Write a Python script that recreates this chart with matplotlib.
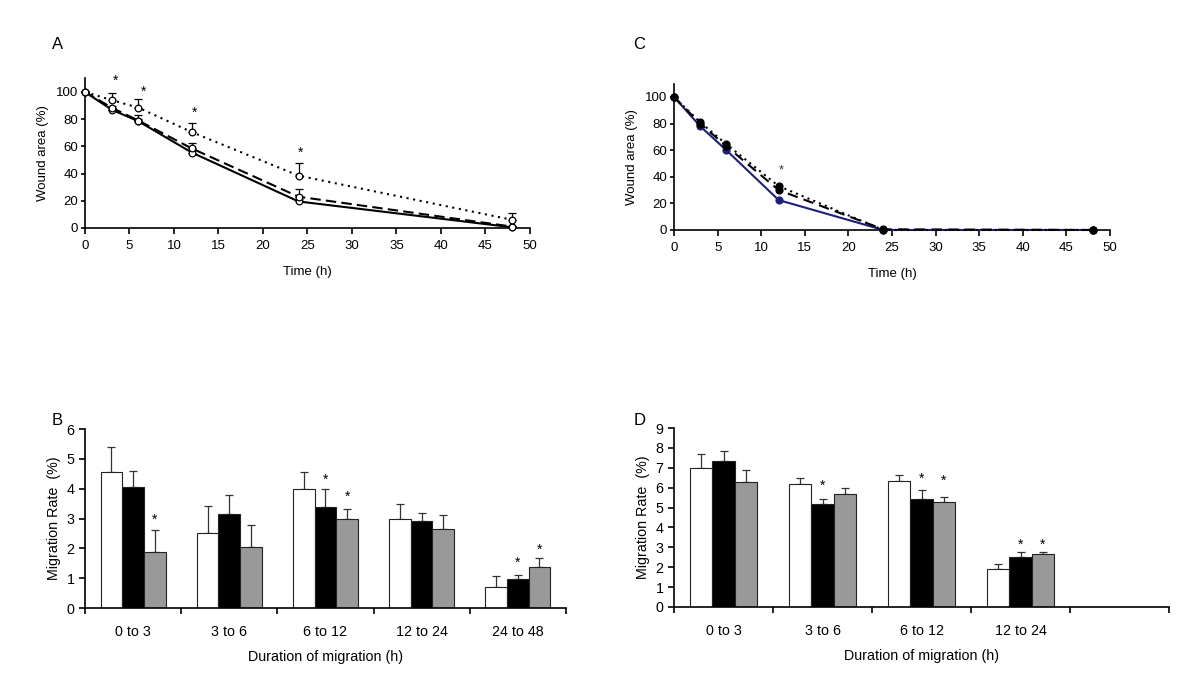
import matplotlib
matplotlib.use('Agg')
import matplotlib.pyplot as plt
import numpy as np

plt.rcParams['font.family'] = ['Liberation Sans', 'DejaVu Sans']

# Panel A: wound area over time (open circles)
time_a = [0, 3, 6, 12, 24, 48]
a_solid = [100, 87, 78.5, 55.5, 19.5, 0.5]
a_solid_err = [0, 1.5, 1.5, 2, 1.5, 0.5]
a_dashed = [100, 88.5, 79, 58.5, 23, 1]
a_dashed_err = [0, 1.5, 4, 4, 6, 0.5]
a_dotted = [100, 94, 88.5, 70.5, 38.5, 6]
a_dotted_err = [0, 5, 6, 7, 9, 5]
a_star_x = [3.4, 6.6, 12.3, 24.2]
a_star_y = [108, 100, 85, 55]

# Panel C: wound area over time (filled circles)
time_c = [0, 3, 6, 12, 24, 48]
c_blue = [100, 78, 60, 22.5, 0, 0]
c_dashed = [100, 80, 63, 30, 0.5, 0]
c_dotted = [100, 81, 64.5, 33, 0, 0]
c_star_x = [12.3]
c_star_y = [45]

# Panel B: migration rate
cats_b = ['0 to 3', '3 to 6', '6 to 12', '12 to 24', '24 to 48']
b_white = [4.55, 2.52, 3.98, 3.0, 0.72]
b_white_err = [0.84, 0.90, 0.59, 0.48, 0.35]
b_black = [4.05, 3.15, 3.37, 2.93, 0.96]
b_black_err = [0.53, 0.65, 0.61, 0.25, 0.14]
b_gray = [1.89, 2.04, 3.0, 2.65, 1.37]
b_gray_err = [0.71, 0.75, 0.33, 0.47, 0.31]
b_stars = [(0, 2, 2.95), (2, 1, 4.3), (2, 2, 3.72), (4, 1, 1.52), (4, 2, 1.95)]

# Panel D: migration rate
cats_d = ['0 to 3', '3 to 6', '6 to 12', '12 to 24', '']
d_white = [6.99, 6.19, 6.34, 1.9]
d_white_err = [0.69, 0.30, 0.29, 0.25]
d_black = [7.33, 5.19, 5.44, 2.5]
d_black_err = [0.52, 0.22, 0.42, 0.27]
d_gray = [6.28, 5.68, 5.29, 2.65]
d_gray_err = [0.60, 0.31, 0.22, 0.14]
d_stars = [(1, 1, 6.1), (2, 1, 6.45), (2, 2, 6.35), (3, 1, 3.15), (3, 2, 3.15)]


def style_axes(ax):
    for s in ['top', 'right']:
        ax.spines[s].set_visible(False)
    for s in ['left', 'bottom']:
        ax.spines[s].set_linewidth(1.2)
    ax.tick_params(direction='out', width=1.2)


def line_panel(ax, t, series, styles, colors, mcolors, errs, filled):
    for y, ls, c, mc, e in zip(series, styles, colors, mcolors, errs):
        if e is not None:
            ax.errorbar(t, y, yerr=[np.zeros(len(e)), e], fmt='none',
                        ecolor='black', elinewidth=0.9, capsize=3,
                        capthick=0.9, zorder=2)
        face = mc if filled else 'white'
        ax.plot(t, y, linestyle=ls, color=c, linewidth=1.5, marker='o',
                markersize=5 if filled else 4.8, markerfacecolor=face,
                markeredgecolor=mc, markeredgewidth=0.9, zorder=3,
                clip_on=False)
    ax.set_xlim(0, 50)
    ax.set_ylim(0, 110)
    ax.set_xticks(np.arange(0, 51, 5))
    ax.set_yticks(np.arange(0, 101, 20))
    ax.set_xlabel('Time (h)', fontsize=9.5, labelpad=10)
    ax.set_ylabel('Wound area (%)', fontsize=9.5, labelpad=5)
    style_axes(ax)
    ax.tick_params(labelsize=9.5)
    ax.tick_params(axis='x', length=4, pad=5)
    ax.tick_params(axis='y', length=3, pad=2)


def bar_panel(ax, cats, groups, errs, stars, ymax):
    n = len(groups[0])
    x = np.arange(n) + 0.5
    w = 0.225
    colors = ['white', 'black', '#999999']
    for i, (vals, e, c) in enumerate(zip(groups, errs, colors)):
        xi = x + (i - 1) * w
        ax.bar(xi, vals, width=w, color=c, edgecolor='#222222',
               linewidth=0.8, zorder=2)
        ax.errorbar(xi, vals, yerr=[np.zeros(n), e], fmt='none',
                    ecolor='#333333', elinewidth=0.9, capsize=3,
                    capthick=0.9, zorder=1)
    for g, k, yv in stars:
        ax.text(g + 0.5 + (k - 1) * w, yv, '*', ha='center', va='center',
                fontsize=10)
    ax.set_xlim(0, len(cats))
    ax.set_ylim(0, ymax)
    ax.set_yticks(np.arange(0, ymax + 1, 1))
    ax.set_xticks(np.arange(0, len(cats) + 1))
    ax.set_xticklabels([])
    ax.set_xticks(np.arange(len(cats)) + 0.5, minor=True)
    ax.set_xticklabels(cats, minor=True, fontsize=10.3)
    ax.set_xlabel('Duration of migration (h)', fontsize=10.3, labelpad=8)
    ax.set_ylabel('Migration Rate  (%)', fontsize=10.3)
    style_axes(ax)
    ax.tick_params(axis='y', labelsize=10.3, length=4)
    ax.tick_params(axis='x', which='major', length=4)
    ax.tick_params(axis='x', which='minor', length=0, pad=12)


fig = plt.figure(figsize=(12, 6.9), dpi=100)

ax_a = fig.add_axes([0.0708, 0.6696, 0.3708, 0.2168])
line_panel(ax_a, time_a, [a_solid, a_dashed, a_dotted],
           ['-', (0, (5, 2.5)), (0, (1, 2.2))], ['black'] * 3,
           ['black'] * 3,
           [a_solid_err, a_dashed_err, a_dotted_err], filled=False)
for sx, sy in zip(a_star_x, a_star_y):
    ax_a.text(sx, sy, '*', ha='center', va='center', fontsize=10)

ax_c = fig.add_axes([0.5617, 0.6667, 0.3633, 0.212])
line_panel(ax_c, time_c, [c_blue, c_dashed, c_dotted],
           ['-', (0, (5, 3)), (0, (1, 2))], ['#1f1f7a', 'black', 'black'],
           ['#1f1f7a', 'black', 'black'],
           [None, None, None], filled=True)
for sx, sy in zip(c_star_x, c_star_y):
    ax_c.text(sx, sy, '*', ha='center', va='center', fontsize=9,
              color='#333333')

ax_b = fig.add_axes([0.0708, 0.1188, 0.4008, 0.2594])
bar_panel(ax_b, cats_b, [b_white, b_black, b_gray],
          [b_white_err, b_black_err, b_gray_err], b_stars, 6)

ax_d = fig.add_axes([0.5617, 0.1203, 0.4125, 0.2594])
bar_panel(ax_d, cats_d, [d_white, d_black, d_gray],
          [d_white_err, d_black_err, d_gray_err], d_stars, 9)

for lbl, x, y in [('A', 0.048, 0.936), ('C', 0.533, 0.936),
                  ('B', 0.048, 0.39), ('D', 0.533, 0.39)]:
    fig.text(x, y, lbl, fontsize=12, ha='center', va='center')

fig.savefig('out.png', dpi=100)
